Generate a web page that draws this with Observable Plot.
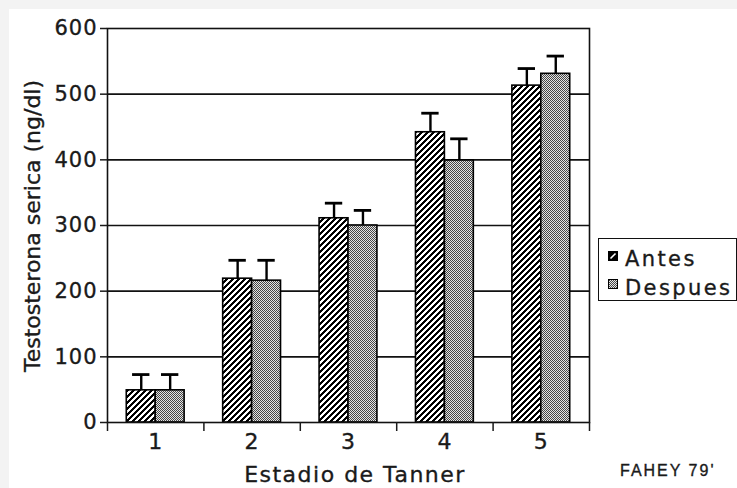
<!DOCTYPE html>
<html>
<head>
<meta charset="utf-8">
<script src="https://cdn.jsdelivr.net/npm/d3@7"></script>
<script src="https://cdn.jsdelivr.net/npm/@observablehq/plot@0.6"></script>
<style>
  body { margin: 0; background: #f3f3f3; font-family: "DejaVu Sans", sans-serif; color: #1a1a1a; }
  #wrap { position: relative; width: 737px; height: 488px; overflow: hidden; }
  #panel { position: absolute; left: 9px; top: 9px; right: 0; bottom: 0; background: #fff; }
  #chart { position: absolute; left: 0; top: 0; }
  #chart text { stroke: #1a1a1a; stroke-width: 0.35px; }
  .lbl { position: absolute; white-space: nowrap; margin: 0; -webkit-text-stroke: 0.35px #1a1a1a; }
  #ylabel { left: 33px; top: 226px; font-size: 22px; line-height: 22px; transform: translate(-50%, -50%) rotate(-90deg); }
  #xlabel { left: 355px; top: 464px; font-size: 22px; line-height: 22px; letter-spacing: 1.5px; transform: translateX(-50%); }
  #source { left: 620px; top: 463px; font-family: "Liberation Sans", Arial, sans-serif; font-size: 16px; line-height: 16px; letter-spacing: 2px; }
  #legend { position: absolute; left: 598px; top: 238px; width: 139px; height: 63px; box-sizing: border-box; border: 1.5px solid #111; background: #fff; }
  .swatch { position: absolute; left: 9px; width: 10px; height: 10px; }
  .item { position: absolute; font-size: 21px; line-height: 21px; letter-spacing: 2.4px; white-space: nowrap; -webkit-text-stroke: 0.35px #1a1a1a; }
</style>
</head>
<body>
<svg width="0" height="0" style="position:absolute">
  <defs id="fills"></defs>
</svg>
<div id="wrap">
  <div id="panel"></div>
  <div id="chart"></div>
  <div class="lbl" id="ylabel">Testosterona serica (ng/dl)</div>
  <div class="lbl" id="xlabel">Estadio de Tanner</div>
  <div class="lbl" id="source">FAHEY 79'</div>
  <div id="legend"></div>
</div>
<script>
// Serum testosterone by Tanner stage, before and after
const stages = [1, 2, 3, 4, 5];
const series = ["Antes", "Despues"];
const antes = [49, 219, 311, 442, 513];
const antesErr = [24, 28, 23, 29, 26];
const despues = [49, 216, 300, 399, 531];
const despuesErr = [24, 31, 23, 33, 27];
const yTicks = [0, 100, 200, 300, 400, 500, 600];

// Fill patterns: diagonal hatching for "Antes", fine dot screen for "Despues"
const defs = d3.select("#fills");
const hatchPeriod = 6;
const hatch = defs.append("pattern")
  .attr("id", "hatch").attr("patternUnits", "userSpaceOnUse")
  .attr("width", hatchPeriod).attr("height", hatchPeriod)
  .attr("shape-rendering", "crispEdges");
hatch.append("rect").attr("width", hatchPeriod).attr("height", hatchPeriod).attr("fill", "#fff");
for (let px = 0; px < hatchPeriod; px++) {
  for (let py = 0; py < hatchPeriod; py++) {
    if ((px + py) % hatchPeriod < 3) hatch.append("rect").attr("x", px).attr("y", py).attr("width", 1).attr("height", 1).attr("fill", "#000");
  }
}
const dots = defs.append("pattern")
  .attr("id", "dots").attr("patternUnits", "userSpaceOnUse")
  .attr("width", 2).attr("height", 2)
  .attr("shape-rendering", "crispEdges");
dots.append("rect").attr("width", 2).attr("height", 2).attr("fill", "#e4e4e4");
dots.append("rect").attr("x", 0).attr("y", 0).attr("width", 1).attr("height", 1).attr("fill", "#464646");
dots.append("rect").attr("x", 1).attr("y", 1).attr("width", 1).attr("height", 1).attr("fill", "#464646");

const fills = {Antes: "url(#hatch)", Despues: "url(#dots)"};
const values = {Antes: [antes, antesErr], Despues: [despues, despuesErr]};
const side = {Antes: -1, Despues: 1};   // which side of the stage centre each bar sits on
const barWidth = 0.3;                  // in stage units
const capHalf = 0.09;

const rows = stages.flatMap((stage, i) => series.map(serie => {
  const s = side[serie];
  return {
    stage, serie,
    value: values[serie][0][i],
    err: values[serie][1][i],
    x1: s < 0 ? stage - barWidth : stage,
    x2: s < 0 ? stage : stage + barWidth,
    xc: stage + s * barWidth / 2
  };
}));
// tick marks between (and around) the stage groups
const boundaries = d3.range(stages.length + 1).map(k => stages[0] - 0.5 + k);

const chart = Plot.plot({
  width: 737,
  height: 488,
  marginLeft: 107,
  marginTop: 28,
  marginRight: 148,
  marginBottom: 66,
  style: {background: "transparent", fontFamily: "DejaVu Sans", color: "#1a1a1a", letterSpacing: "1px"},
  x: {domain: [boundaries[0], boundaries[boundaries.length - 1]]},
  y: {domain: [yTicks[0], yTicks[yTicks.length - 1]]},
  marks: [
    Plot.ruleY(yTicks.slice(1, -1), {stroke: "#111", strokeWidth: 1.6}),
    ...series.map(serie => Plot.rectY(rows.filter(d => d.serie === serie), {
      x1: "x1", x2: "x2", y1: 0, y2: "value",
      fill: fills[serie], stroke: "#000", strokeWidth: 1.6
    })),
    Plot.ruleX(rows, {x: "xc", y1: "value", y2: d => d.value + d.err, stroke: "#000", strokeWidth: 2.4}),
    Plot.ruleY(rows, {y: d => d.value + d.err, x1: d => d.xc - capHalf, x2: d => d.xc + capHalf, stroke: "#000", strokeWidth: 2.8}),
    Plot.frame({stroke: "#111", strokeWidth: 1.6}),
    Plot.axisY({ticks: yTicks, tickSize: 7, tickPadding: 3, fontSize: 21, label: null, tickFormat: d => String(d), strokeWidth: 1.5}),
    Plot.axisX({ticks: stages, tickSize: 0, tickPadding: 11, fontSize: 22, label: null, tickFormat: d => String(d)}),
    Plot.axisX({ticks: boundaries, tickSize: 9, tickFormat: () => "", label: null, strokeWidth: 1.5})
  ]
});
document.getElementById("chart").append(chart);

// Legend
const legend = d3.select("#legend");
series.forEach((serie, i) => {
  const top = 12 + i * 28;
  const sw = legend.append("svg").attr("class", "swatch").style("top", top + "px")
    .attr("width", 10).attr("height", 10);
  if (serie === "Antes") {
    sw.append("rect").attr("width", 10).attr("height", 10).attr("fill", "#000");
    sw.append("line").attr("x1", 2.5).attr("y1", 7.5).attr("x2", 7.5).attr("y2", 2.5)
      .attr("stroke", "#fff").attr("stroke-width", 1.6);
  } else {
    sw.append("rect").attr("x", 0.5).attr("y", 0.5).attr("width", 9).attr("height", 9)
      .attr("fill", fills[serie]).attr("stroke", "#000").attr("stroke-width", 1);
  }
  legend.append("div").attr("class", "item")
    .style("left", "26px").style("top", (10 + i * 29) + "px")
    .text(serie);
});
</script>
</body>
</html>
